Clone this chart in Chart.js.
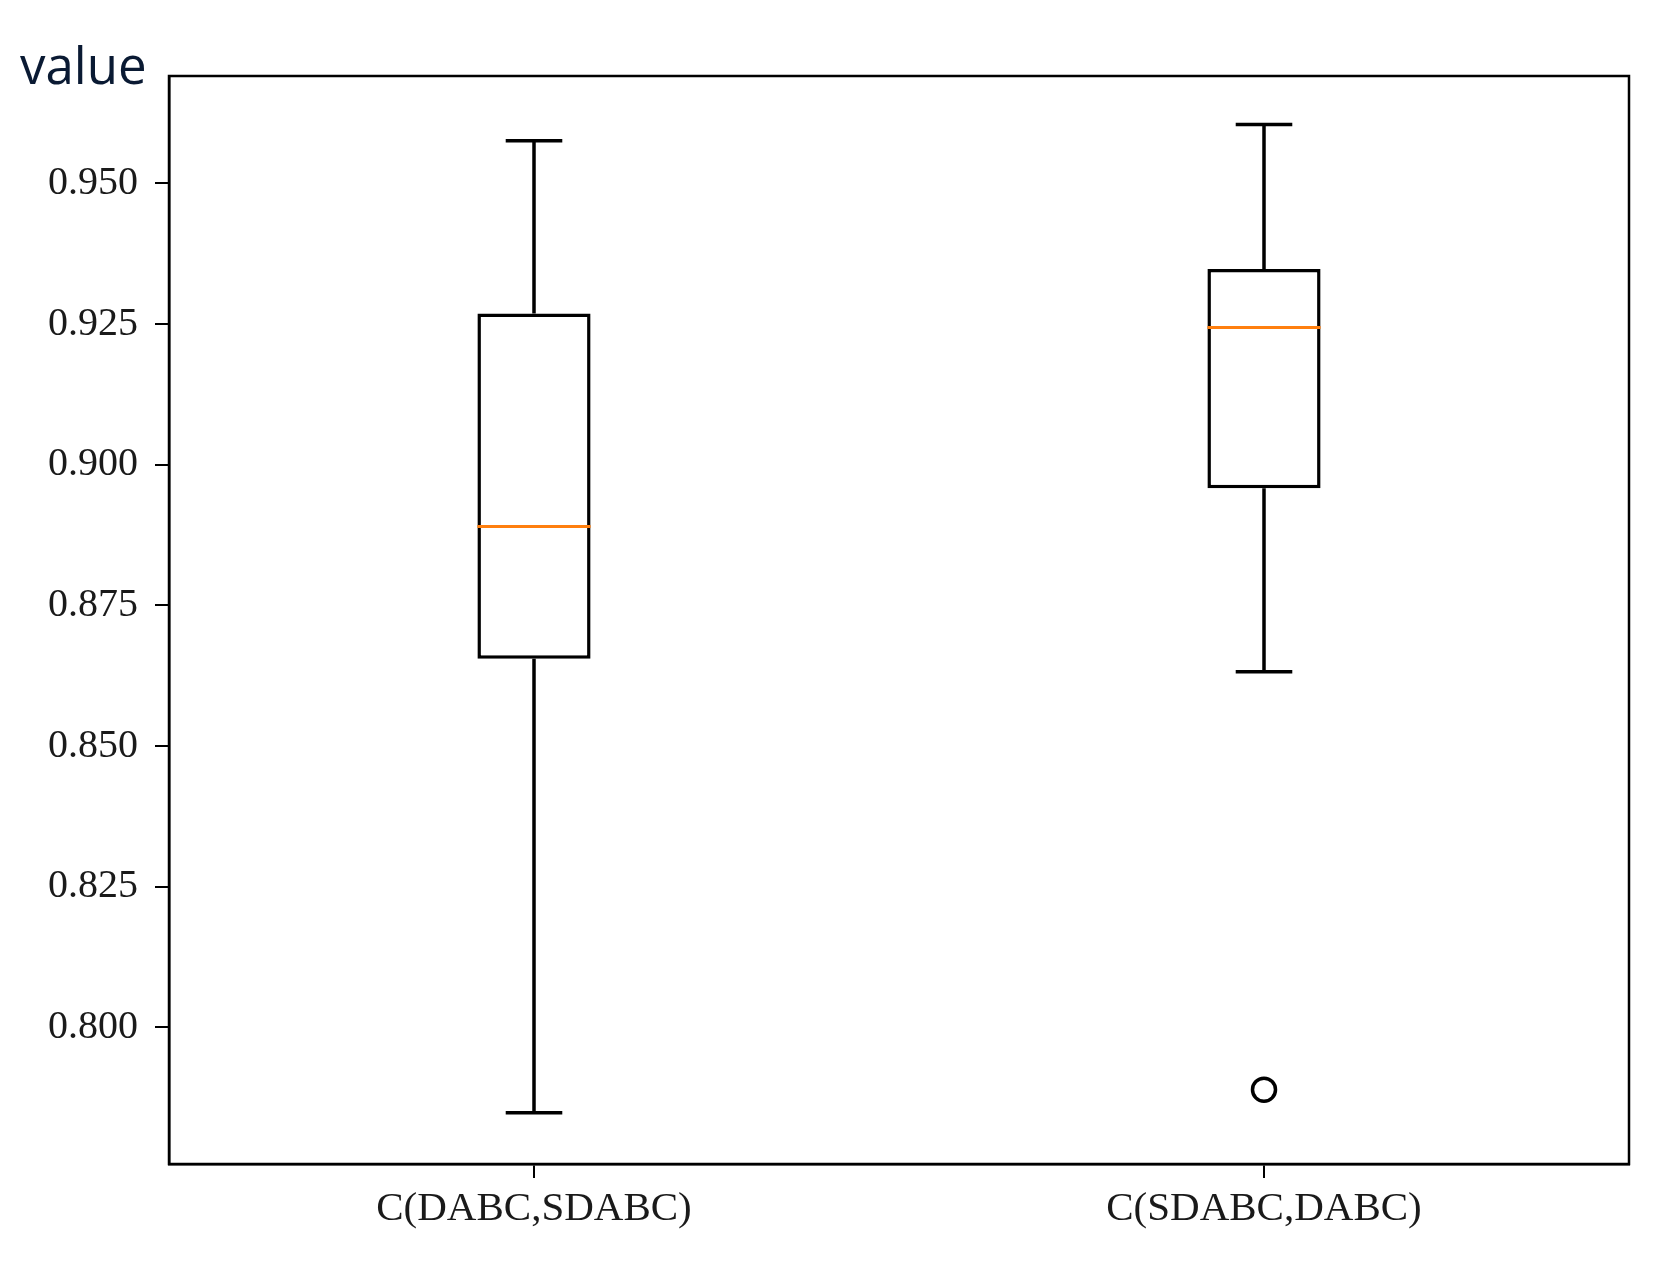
<!DOCTYPE html>
<html>
<head>
<meta charset="utf-8">
<script src="https://cdn.jsdelivr.net/npm/chart.js@4.4.0/dist/chart.umd.min.js"></script>
<style>
  html, body { margin: 0; padding: 0; background: #fff; }
  #wrap { width: 1659px; height: 1264px; position: relative; }
</style>
</head>
<body>
<div id="wrap"><canvas id="ctx"></canvas></div>
<script>
// box plot values
const categories = ['C(DABC,SDABC)', 'C(SDABC,DABC)'];
const whiskerLow = [0.7848, 0.8632];
const q1 = [0.8655, 0.8958];
const median = [0.8890, 0.9244];
const q3 = [0.9269, 0.9348];
const whiskerHigh = [0.9576, 0.9605];
const outliers = [[], [0.7889]];
const yTicks = [0.800, 0.825, 0.850, 0.875, 0.900, 0.925, 0.950];
const yLabel = 'value';

const boxes = categories.map((c, i) => [q1[i], q3[i]]);

// whiskers, caps, medians, fliers and the frame
const boxExtras = {
    id: 'boxExtras',
    afterDatasetsDraw(chart) {
        const { ctx, scales: { x, y }, chartArea } = chart;
        const meta = chart.getDatasetMeta(0);
        ctx.save();
        ctx.lineCap = 'butt';
        categories.forEach((c, i) => {
            const bar = meta.data[i];
            const cx = x.getPixelForValue(i);
            const half = bar.width / 2;
            const capHalf = half / 2;
            ctx.strokeStyle = '#000';
            ctx.lineWidth = 3.5;
            ctx.beginPath();
            ctx.moveTo(cx, y.getPixelForValue(q3[i]));
            ctx.lineTo(cx, y.getPixelForValue(whiskerHigh[i]));
            ctx.moveTo(cx, y.getPixelForValue(q1[i]));
            ctx.lineTo(cx, y.getPixelForValue(whiskerLow[i]));
            ctx.moveTo(cx - capHalf, y.getPixelForValue(whiskerHigh[i]));
            ctx.lineTo(cx + capHalf, y.getPixelForValue(whiskerHigh[i]));
            ctx.moveTo(cx - capHalf, y.getPixelForValue(whiskerLow[i]));
            ctx.lineTo(cx + capHalf, y.getPixelForValue(whiskerLow[i]));
            ctx.stroke();

            ctx.strokeStyle = '#ff7f0e';
            ctx.lineWidth = 3;
            ctx.beginPath();
            ctx.moveTo(cx - half, y.getPixelForValue(median[i]));
            ctx.lineTo(cx + half, y.getPixelForValue(median[i]));
            ctx.stroke();

            ctx.strokeStyle = '#000';
            ctx.lineWidth = 3.5;
            outliers[i].forEach(v => {
                ctx.beginPath();
                ctx.arc(cx, y.getPixelForValue(v), 11.5, 0, Math.PI * 2);
                ctx.stroke();
            });
        });
        ctx.lineWidth = 2.5;
        ctx.strokeStyle = '#000';
        ctx.strokeRect(chartArea.left, chartArea.top, chartArea.right - chartArea.left, chartArea.bottom - chartArea.top);
        ctx.restore();
    },
    afterDraw(chart) {
        const ctx = chart.ctx;
        ctx.save();
        ctx.fillStyle = '#0a1a33';
        ctx.font = '51px "Open Sans", sans-serif';
        ctx.textBaseline = 'alphabetic';
        ctx.fillText(yLabel, 20, 84);
        ctx.restore();
    }
};

new Chart(document.getElementById('ctx'), {
    type: 'bar',
    data: {
        labels: categories,
        datasets: [{
            data: boxes,
            backgroundColor: '#fff',
            borderColor: '#000',
            borderWidth: 3.5,
            borderSkipped: false,
            barPercentage: 0.155,
            categoryPercentage: 1
        }]
    },
    options: {
        responsive: true,
        maintainAspectRatio: false,
        animation: false,
        layout: { padding: { top: 76, right: 30, left: 0, bottom: 0 } },
        plugins: {
            legend: { display: false },
            tooltip: { enabled: false }
        },
        scales: {
            x: {
                offset: true,
                grid: { offset: false, drawOnChartArea: false, drawTicks: true, tickLength: 14, color: '#000', lineWidth: 2 },
                border: { display: true, color: '#000', width: 2.5 },
                ticks: { color: '#1a1a1a', font: { family: '"Liberation Serif", serif', size: 41 }, padding: 7, maxRotation: 0 },
                afterFit: s => { s.height = 100; }
            },
            y: {
                min: 0.7757,
                max: 0.9691,
                afterBuildTicks: s => { s.ticks = yTicks.map(v => ({ value: v })); },
                grid: { drawOnChartArea: false, drawTicks: true, tickLength: 14, color: '#000', lineWidth: 2 },
                border: { display: true, color: '#000', width: 2.5 },
                ticks: {
                    color: '#1a1a1a',
                    font: { family: '"Liberation Serif", serif', size: 40 },
                    padding: 17,
                    callback: v => Number(v).toFixed(3)
                },
                afterFit: s => { s.width = 169; }
            }
        }
    },
    plugins: [boxExtras]
});
</script>
</body>
</html>
